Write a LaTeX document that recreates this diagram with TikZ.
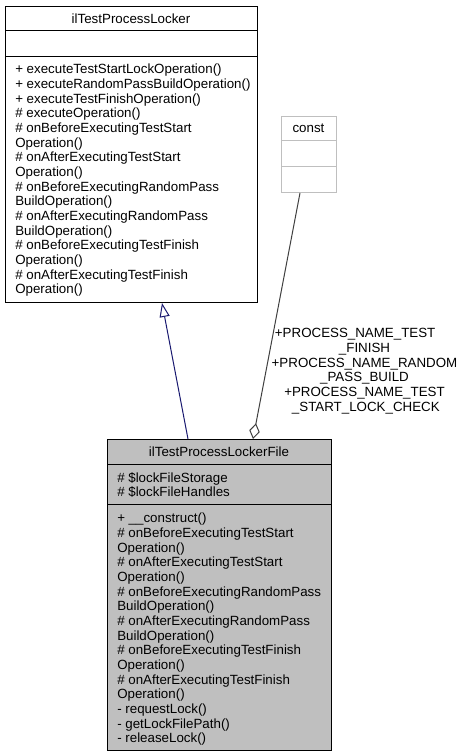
\documentclass[tikz,border=0pt]{standalone}
\usepackage{fontspec}
\setmainfont{Liberation Sans}
\usetikzlibrary{arrows.meta}
\definecolor{edgeblue}{HTML}{191970}
\definecolor{edgegray}{HTML}{404040}
\definecolor{fillgray}{HTML}{BFBFBF}
\definecolor{lightborder}{HTML}{BFBFBF}
\begin{document}
\begin{tikzpicture}[x=0.75pt,y=-0.75pt,
  font=\fontsize{10}{11}\selectfont,
  box/.style={draw=black, line width=0.75pt, inner sep=0pt, anchor=north west},
  sep/.style={draw=black, line width=0.75pt},
  hdr/.style={inner sep=0pt, anchor=center},
  txt/.style={inner sep=0pt, align=left, anchor=north west},
  inherit/.style={draw=edgeblue, line width=0.75pt, -{Triangle[open,length=10.5pt,width=7.5pt]}},
  aggr/.style={draw=edgegray, line width=0.75pt, {Diamond[open,length=12pt,width=8pt]}-},
  lbl/.style={inner sep=0pt, align=center}]
\useasboundingbox (0,0) rectangle (465,756);
\fill[white] (0,0) rectangle (465,756);

% ilTestProcessLocker
\node[box, fill=white, minimum width=189pt, minimum height=222pt] (A) at (5,6) {};
\draw[sep] (5,31) -- (257,31);
\draw[sep] (5,57) -- (257,57);
\node[hdr] (Ah) at (131,18.5) {ilTestProcessLocker};
\node[txt] (Am) at (15,64) {+ executeTestStartLockOperation()\\
+ executeRandomPassBuildOperation()\\
+ executeTestFinishOperation()\\
\# executeOperation()\\
\# onBeforeExecutingTestStart\\
Operation()\\
\# onAfterExecutingTestStart\\
Operation()\\
\# onBeforeExecutingRandomPass\\
BuildOperation()\\
\# onAfterExecutingRandomPass\\
BuildOperation()\\
\# onBeforeExecutingTestFinish\\
Operation()\\
\# onAfterExecutingTestFinish\\
Operation()};

% const
\node[box, draw=lightborder, fill=white, minimum width=41.25pt, minimum height=57pt] (C) at (281,116) {};
\draw[draw=lightborder, line width=0.75pt] (281,141) -- (336,141);
\draw[draw=lightborder, line width=0.75pt] (281,167) -- (336,167);
\node[hdr] (Ch) at (308.5,128.5) {const};

% ilTestProcessLockerFile
\node[box, fill=fillgray, minimum width=168pt, minimum height=233.25pt] (B) at (107,439) {};
\draw[sep] (107,464) -- (331,464);
\draw[sep] (107,504) -- (331,504);
\node[hdr] (Bh) at (219,451.5) {ilTestProcessLockerFile};
\node[txt] (Ba) at (117,472) {\# \$lockFileStorage\\
\# \$lockFileHandles};
\node[txt] (Bm) at (117,513) {+ \_\_construct()\\
\# onBeforeExecutingTestStart\\
Operation()\\
\# onAfterExecutingTestStart\\
Operation()\\
\# onBeforeExecutingRandomPass\\
BuildOperation()\\
\# onAfterExecutingRandomPass\\
BuildOperation()\\
\# onBeforeExecutingTestFinish\\
Operation()\\
\# onAfterExecutingTestFinish\\
Operation()\\
- requestLock()\\
- getLockFilePath()\\
- releaseLock()};

% edges
\draw[inherit] ([xshift=60.75pt]B.north west) -- ([xshift=117.75pt]A.south west);
\draw[aggr] ([xshift=109.5pt]B.north west) -- ([xshift=14.25pt]C.south west);
\node[lbl] (L) at (364.5,371) {+PROCESS\_NAME\_TEST\hspace*{14pt}\\
\_FINISH\\
+PROCESS\_NAME\_RANDOM\\
\_PASS\_BUILD\\
+PROCESS\_NAME\_TEST\hspace*{18pt}\\
\hspace*{2pt}\_START\_LOCK\_CHECK};
\end{tikzpicture}
\end{document}
